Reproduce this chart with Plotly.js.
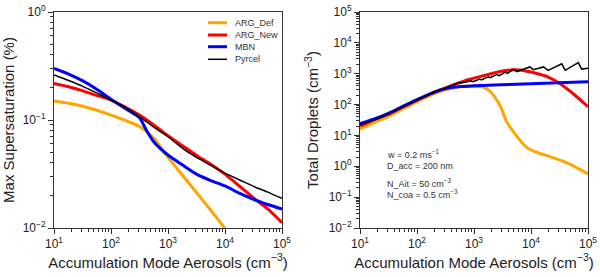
<!DOCTYPE html>
<html><head><meta charset="utf-8">
<script src="https://cdn.plot.ly/plotly-3.0.1.min.js"></script>
<style>html,body{margin:0;padding:0;background:#fff}#chart{width:600px;height:277px}</style>
</head><body><div id="chart"></div>
<script>
// ---- Left panel: Max Supersaturation (%) ----
const ssDefX = [10,18,32,56,100,178,316,562,1000,1778,3162,5623,10000,17783];
const ssDefY = [0.150,0.143,0.134,0.123,0.111,0.099,0.087,0.068,0.045,0.031,0.0213,0.0146,0.0099,0.0068];

const ssNewX = [10,18,32,56,100,178,316,562,1000,1778,3162,5623,10000,17783,31623,56234,100000];
const ssNewY = [0.218,0.203,0.186,0.169,0.153,0.132,0.111,0.090,0.0716,0.058,0.047,0.039,0.0315,0.0245,0.019,0.015,0.0112];

const ssMbnX = [10,18,32,56,100,178,316,420,562,1000,1778,3162,5623,10000,17783,31623,56234,100000];
const ssMbnY = [0.30,0.266,0.23,0.193,0.156,0.128,0.105,0.080,0.063,0.0474,0.0385,0.0315,0.0275,0.0245,0.021,0.0184,0.0165,0.015];

const ssPyrX = [10,18,32,56,100,178,316,562,1000,1778,3162,5623,10000,17783,31623,56234,100000];
const ssPyrY = [0.261,0.232,0.205,0.178,0.153,0.131,0.107,0.086,0.070,0.055,0.045,0.038,0.0322,0.028,0.0243,0.0215,0.0188];

// ---- Right panel: Total Droplets (cm-3) ----
const ndDefX = [10,20,30,50,100,200,300,500,700,1000,1450,1900,2900,3700,5600,8300,11000,21000,43000,100000];
const ndDefY = [16,29,40,65,125,225,295,365,390,395,370,270,88,29,9.5,4.2,3.1,2.1,1.3,0.57];

const ndNewX = [10,20,30,50,100,200,300,500,700,1000,2000,3000,5000,7000,10000,20000,30000,50000,100000];
const ndNewY = [20,36,47,75,140,255,335,480,600,720,1000,1200,1340,1300,1130,780,520,260,85];

const ndMbnX = [10,20,30,50,100,200,300,400,600,1000,3000,10000,30000,100000];
const ndMbnY = [24,37,50,78,145,250,320,355,385,405,440,475,510,545];

const ndPyrX = [10,20,30,50,100,200,300,500,700,891,955,1259,1349,1778,1905,2512,2754,3548,3890,4898,5623,9550,10965,16596,19953,34674,39811,67608,77625,100000];
const ndPyrY = [22,34,47,75,142,255,335,480,525,589,550,676,631,794,741,933,871,1122,1023,1413,1175,1660,1349,1660,1288,2089,1288,2291,1413,1514];

const seriesNames = ['ARG_Def','ARG_New','MBN','Pyrcel'];
const seriesColors = ['#FFA500','#FF0000','#0000FF','#000000'];
const seriesWidths = [3,3,3,1.5];

const tickVals = [10,100,1000,10000,100000];
const tickText = ['10<sup>1</sup>','10<sup>2</sup>','10<sup>3</sup>','10<sup>4</sup>','10<sup>5</sup>'];
const ssTickVals = [0.01,0.1,1];
const ssTickText = ['10<sup>−2</sup>','10<sup>−1</sup>','10<sup>0</sup>'];
const ndTickVals = [0.01,0.1,1,10,100,1000,10000,100000];
const ndTickText = ['10<sup>−2</sup>','10<sup>−1</sup>','10<sup>0</sup>','10<sup>1</sup>','10<sup>2</sup>','10<sup>3</sup>','10<sup>4</sup>','10<sup>5</sup>'];

const leftX = [ssDefX, ssNewX, ssMbnX, ssPyrX];
const leftY = [ssDefY, ssNewY, ssMbnY, ssPyrY];
const rightX = [ndDefX, ndNewX, ndMbnX, ndPyrX];
const rightY = [ndDefY, ndNewY, ndMbnY, ndPyrY];

const traces = [];
for (let i = 0; i < 4; i++) {
  traces.push({x: leftX[i], y: leftY[i], xaxis:'x', yaxis:'y', mode:'lines', name: seriesNames[i],
    line:{color: seriesColors[i], width: seriesWidths[i], shape:'spline', smoothing: 0.6}, showlegend:false});
}
for (let i = 0; i < 4; i++) {
  traces.push({x: rightX[i], y: rightY[i], xaxis:'x2', yaxis:'y2', mode:'lines', name: seriesNames[i],
    line:{color: seriesColors[i], width: seriesWidths[i], shape: i===3 ? 'linear' : 'spline', smoothing: 0.8}, showlegend:false});
}

const FONT = 'Liberation Sans, Arial, sans-serif';
const axCol = '#333';
function xAxis(dom, anchor) {
  return {domain: dom, anchor: anchor, type:'log', range:[1,5], tickmode:'array', tickvals: tickVals, ticktext: tickText,
    ticks:'outside', ticklen:5, tickwidth:1, tickcolor: axCol, showline:true, linecolor: axCol, linewidth:1, mirror:true,
    showgrid:false, zeroline:false, tickfont:{size:12, color:'#222', family: FONT},
    minor:{dtick:'D1', ticks:'outside', ticklen:3, tickcolor: axCol, showgrid:false},
    title:{text:'Accumulation Mode Aerosols (cm<sup>−3</sup>)', font:{size:15, color:'#222', family: FONT}, standoff: 6}};
}
function yAxis(dom, anchor, range, tv, tt, title) {
  return {domain: dom, anchor: anchor, type:'log', range: range, tickmode:'array', tickvals: tv, ticktext: tt,
    ticks:'outside', ticklen:5, tickwidth:1, tickcolor: axCol, showline:true, linecolor: axCol, linewidth:1, mirror:true,
    showgrid:false, zeroline:false, tickfont:{size:12, color:'#222', family: FONT},
    minor:{dtick:'D1', ticks:'outside', ticklen:3, tickcolor: axCol, showgrid:false},
    title:{text: title, font:{size:15, color:'#222', family: FONT}, standoff: 6}};
}
const yDom = [(277-228)/277, (277-12)/277];

// manual legend (sample line + label) in the left panel
const legendRows = [22.7, 35, 46.7, 59.3];
const shapes = [];
const annotations = [];
for (let i = 0; i < 4; i++) {
  shapes.push({type:'line', xref:'paper', yref:'paper', x0:208/600, x1:227/600,
    y0:(277-legendRows[i])/277, y1:(277-legendRows[i])/277,
    line:{color: seriesColors[i], width: seriesWidths[i]}});
  annotations.push({text: seriesNames[i], x:233/600, y:(277-legendRows[i])/277});
}
const infoText = ['w = 0.2 ms<sup>−1</sup>','D_acc = 200 nm','N_Ait = 50 cm<sup>−3</sup>','N_coa = 0.5 cm<sup>−3</sup>'];
const infoRows = [154, 166, 183, 194];
for (let i = 0; i < 4; i++) annotations.push({text: infoText[i], x:385/600, y:(277-infoRows[i])/277});

const layout = {
  width:600, height:277, margin:{l:0, r:0, t:0, b:0}, paper_bgcolor:'#fff', plot_bgcolor:'#fff',
  font:{family: FONT, color:'#222'}, showlegend:false,
  xaxis: xAxis([54/600, 282/600], 'y'),
  yaxis: yAxis(yDom, 'x', [-2, 0], ssTickVals, ssTickText, 'Max Supersaturation (%)'),
  xaxis2: xAxis([360/600, 588/600], 'y2'),
  yaxis2: yAxis(yDom, 'x2', [-2, 5], ndTickVals, ndTickText, 'Total Droplets (cm<sup>−3</sup>)'),
  shapes: shapes,
  annotations: annotations.map(a => Object.assign({xref:'paper', yref:'paper', xanchor:'left', yanchor:'middle', showarrow:false,
      font:{size:9, color:'#333', family: FONT}}, a))
};
Plotly.newPlot('chart', traces, layout, {staticPlot:true, displayModeBar:false});
</script></body></html>
